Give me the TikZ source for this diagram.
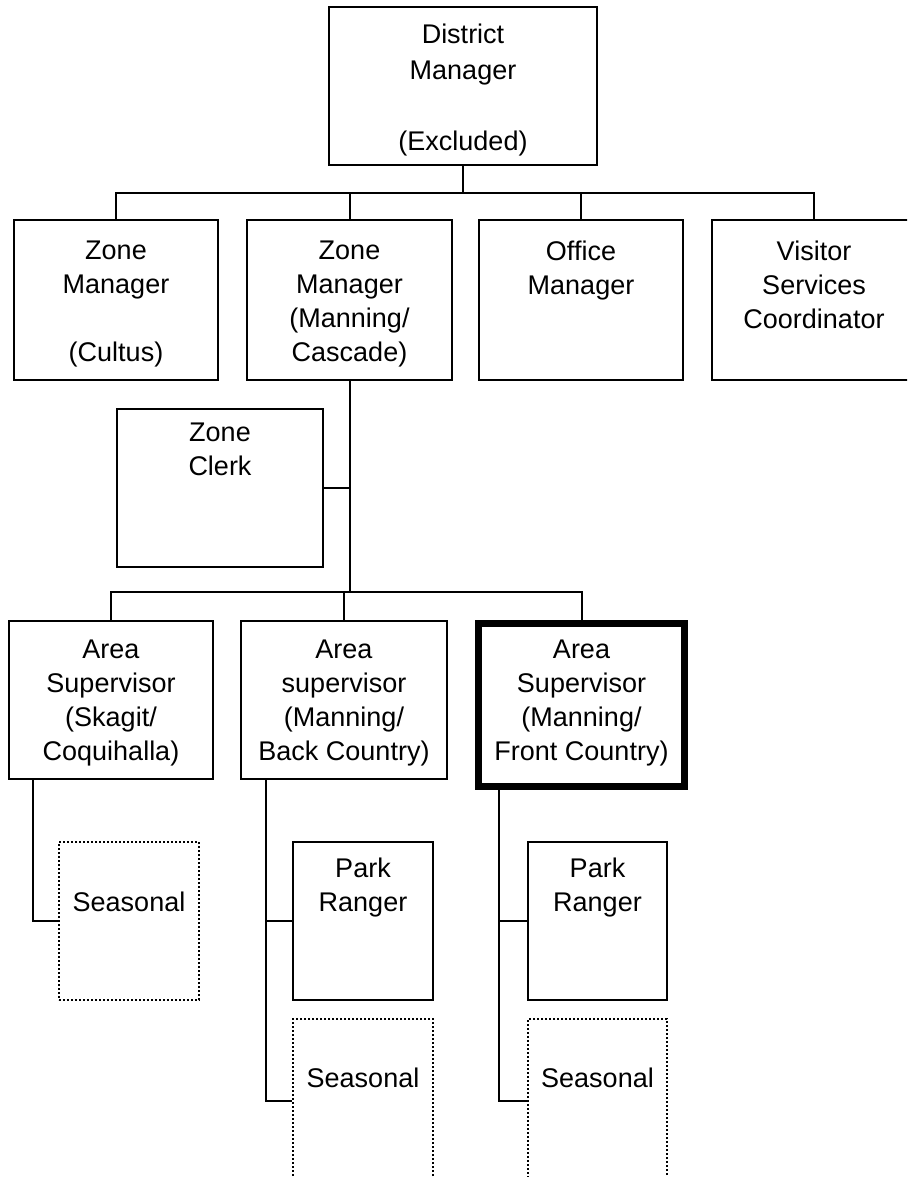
\documentclass[tikz,border=0pt]{standalone}
\usepackage{fontspec}
\setmainfont{Liberation Sans}
\begin{document}
\begin{tikzpicture}[x=1pt,y=-1pt,
  ln/.style={line width=2pt},
  bx/.style={draw, line width=2pt, inner sep=0pt},
  thickbx/.style={draw, line width=7pt, inner sep=0pt},
  dotbx/.style={draw, line width=2pt, dash pattern=on 2pt off 2pt, inner sep=0pt},
  sz/.style 2 args={minimum width=#1pt, minimum height=#2pt},
  txt/.style={anchor=north, inner sep=0pt, align=center, font=\fontsize{27}{34}\selectfont}
]
\useasboundingbox (0,0) rectangle (907,1177);
\fill[white] (0,0) rectangle (907,1177);
\clip (0,0) rectangle (907,1177);

% boxes
\node[bx, sz={268}{158}] (dm) at (463,86) {};
\node[bx, sz={204}{160}] (zm1) at (116,300) {};
\node[bx, sz={205}{160}] (zm2) at (349.5,300) {};
\node[bx, sz={204}{160}] (om) at (581,300) {};
\node[bx, sz={204}{160}] (vs) at (814,300) {};
\node[bx, sz={206}{158}] (zc) at (220,488) {};
\node[bx, sz={204}{158}] (as1) at (111,700) {};
\node[bx, sz={206}{158}] (as2) at (344,700) {};
\node[thickbx, sz={206}{163}] (as3) at (581.5,705) {};
\node[dotbx, sz={140}{158}] (se1) at (129,921) {};
\node[bx, sz={140}{158}] (pr1) at (363,921) {};
\node[bx, sz={139}{158}] (pr2) at (597.5,921) {};
\node[dotbx, sz={140}{181}] (se2) at (363,1109.5) {};
\node[dotbx, sz={139}{181}] (se3) at (597.5,1109.5) {};

% texts
\node[txt, font=\fontsize{27}{35.5}\selectfont] (dm-t) at (dm.north |- 0,24) {District\\Manager\\\mbox{}\\(Excluded)};
\node[txt] (zm1-t) at (zm1.north |- 0,241) {Zone\\Manager\\\mbox{}\\(Cultus)};
\node[txt] (zm2-t) at (zm2.north |- 0,241) {Zone\\Manager\\(Manning/\\Cascade)};
\node[txt] (om-t) at (om.north |- 0,241) {Office\\Manager};
\node[txt] (vs-t) at (vs.north |- 0,241) {Visitor\\Services\\Coordinator};
\node[txt] (zc-t) at (zc.north |- 0,423) {Zone\\Clerk};
\node[txt] (as1-t) at (as1.north |- 0,640) {Area\\Supervisor\\(Skagit/\\Coquihalla)};
\node[txt] (as2-t) at (as2.north |- 0,640) {Area\\supervisor\\(Manning/\\Back Country)};
\node[txt] (as3-t) at (as3.north |- 0,640) {Area\\Supervisor\\(Manning/\\Front Country)};
\node[txt] (se1-t) at (se1.north |- 0,892) {Seasonal};
\node[txt] (pr1-t) at (pr1.north |- 0,858) {Park\\Ranger};
\node[txt] (pr2-t) at (pr2.north |- 0,858) {Park\\Ranger};
\node[txt] (se2-t) at (se2.north |- 0,1068) {Seasonal};
\node[txt] (se3-t) at (se3.north |- 0,1068) {Seasonal};

% connectors
\coordinate (j1) at (463,193);
\draw[ln] (dm.south) -- (j1);
\draw[ln] (zm1.north) |- (j1) -| (vs.north);
\draw[ln] (zm2.north) -- (zm2.north |- j1);
\draw[ln] (om.north) -- (om.north |- j1);

\coordinate (j2) at (349.5,592);
\draw[ln] (zm2.south) -- (j2);
\draw[ln] (zc.east) -- (zc.east -| zm2.south);
\draw[ln] (as1.north) |- (j2) -| (as3.north);
\draw[ln] (as2.north) -- (as2.north |- j2);

\coordinate (b1) at (33,779);
\draw[ln] (b1) |- (se1.west);

\coordinate (b2) at (266,779);
\coordinate (e2) at (266,1101);
\draw[ln] (b2) -- (e2) -- (e2 -| se2.west);
\draw[ln] (pr1.west) -- (pr1.west -| b2);

\coordinate (b3) at (499,786);
\coordinate (e3) at (499,1101);
\draw[ln] (b3) -- (e3) -- (e3 -| se3.west);
\draw[ln] (pr2.west) -- (pr2.west -| b3);
\end{tikzpicture}
\end{document}
